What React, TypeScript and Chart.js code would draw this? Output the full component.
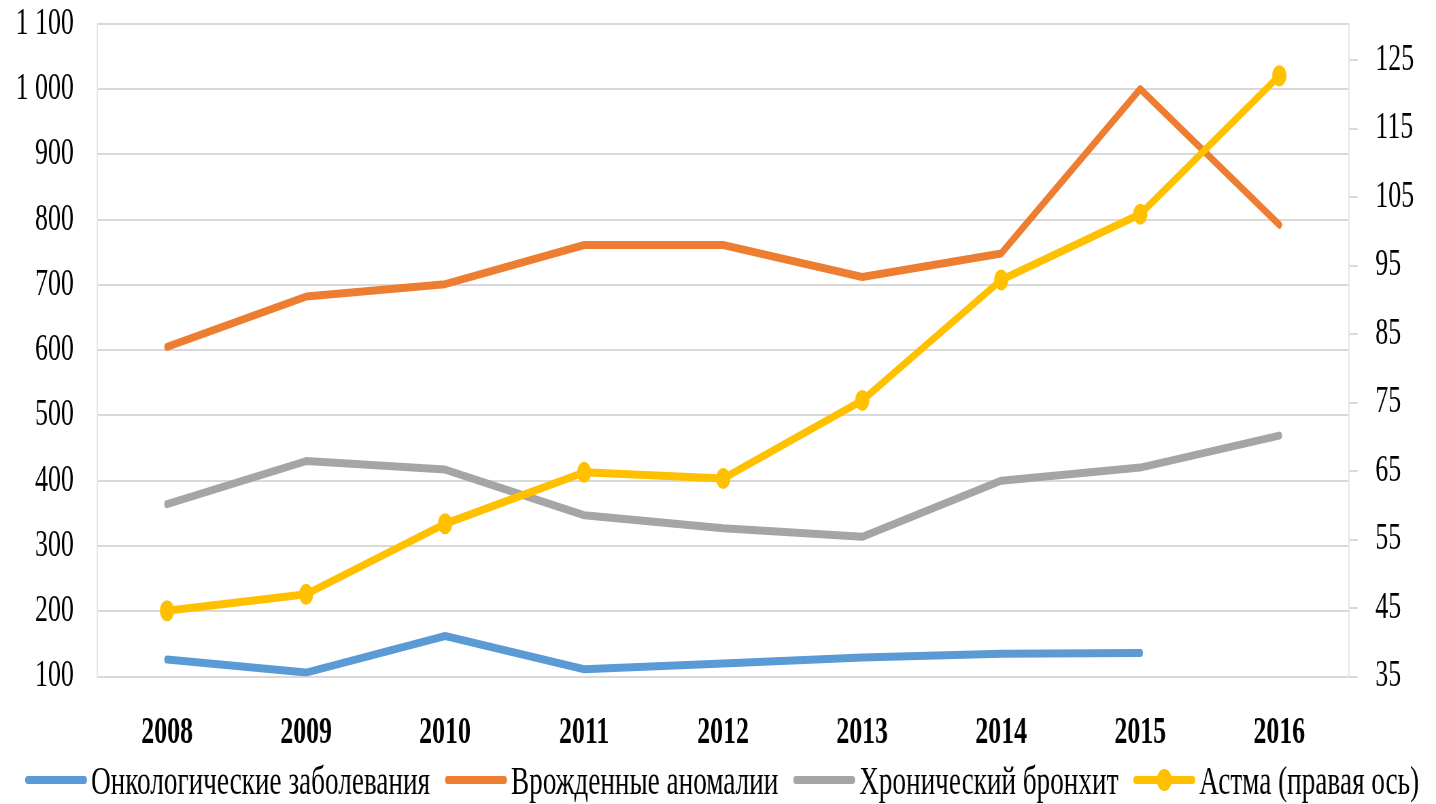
import React, { useEffect, useRef } from 'react';
import { Chart, registerables } from 'chart.js';

Chart.register(...registerables);

// ---- data ----
const years = ['2008', '2009', '2010', '2011', '2012', '2013', '2014', '2015', '2016'];
const oncology = [126, 106, 162, 111, 120, 129, 135, 136, null];
const anomalies = [605, 682, 701, 761, 761, 712, 748, 1000, 792];
const bronchitis = [364, 430, 417, 347, 327, 314, 400, 420, 469];
const asthma = [44.6, 47.0, 57.3, 64.8, 63.9, 75.3, 92.9, 102.5, 122.7];
const leftTicks = [100, 200, 300, 400, 500, 600, 700, 800, 900, 1000, 1100];
const rightTicks = [35, 45, 55, 65, 75, 85, 95, 105, 115, 125];
const seriesNames = [
  'Онкологические заболевания',
  'Врожденные аномалии',
  'Хронический бронхит',
  'Астма (правая ось)',
];
const seriesColors = ['#5B9BD5', '#ED7D31', '#A5A5A5', '#FFC000'];

// ---- layout (internal canvas is wider, displayed squeezed like the reference) ----
const SCREEN_W = 1436;
const SCREEN_H = 804;
const SQUEEZE = 0.68;
const INTERNAL_W = Math.round(SCREEN_W / SQUEEZE);
const FONT = "'Liberation Serif', 'Times New Roman', serif";
const LEGEND_FONT = 40;
const PLOT_TOP = 23.7;
const PLOT_BOTTOM = 676.5;
const LEGEND_SPACE = 60;

const fmt = (v: number) => {
  const s = String(Math.round(v));
  return s.replace(/\B(?=(\d{3})+(?!\d))/g, ' ');
};

const legendPlugin = {
  id: 'excelLegend',
  afterDraw(chart: any) {
    const ctx = chart.ctx as CanvasRenderingContext2D;
    ctx.save();
    ctx.font = `${LEGEND_FONT}px ${FONT}`;
    const items = chart.data.datasets.map((ds: any) => ({
      text: ds.label as string,
      color: ds.borderColor as string,
      marker: (ds.pointRadius || 0) > 0,
      w: ctx.measureText(ds.label).width,
    }));
    const sw = 91;
    const gap1 = 6;
    const gap2 = 22;
    const total =
      items.reduce((a: number, it: any) => a + sw + gap1 + it.w, 0) + gap2 * (items.length - 1);
    let x = (chart.width - total) / 2 + 6;
    const y = 783;
    for (const it of items) {
      ctx.strokeStyle = it.color;
      ctx.lineWidth = 8;
      ctx.lineCap = 'round';
      ctx.beginPath();
      ctx.moveTo(x + 4, y - 3);
      ctx.lineTo(x + sw - 4, y - 3);
      ctx.stroke();
      if (it.marker) {
        ctx.fillStyle = it.color;
        ctx.beginPath();
        ctx.arc(x + sw / 2, y - 3, 11, 0, Math.PI * 2);
        ctx.fill();
      }
      ctx.fillStyle = '#000';
      ctx.textBaseline = 'middle';
      ctx.textAlign = 'left';
      ctx.fillText(it.text, x + sw + gap1, y);
      x += sw + gap1 + it.w + gap2;
    }
    ctx.restore();
  },
};

export default function App() {
  const ref = useRef<HTMLCanvasElement | null>(null);

  useEffect(() => {
    document.body.style.margin = '0';
    const canvas = ref.current;
    if (!canvas) return;
    const lineDs = (i: number, data: (number | null)[], axis: string, order: number, marker: boolean) => ({
      label: seriesNames[i],
      data,
      yAxisID: axis,
      order,
      borderColor: seriesColors[i],
      backgroundColor: seriesColors[i],
      borderWidth: 8,
      borderCapStyle: 'round' as const,
      borderJoinStyle: 'round' as const,
      tension: 0,
      fill: false,
      pointRadius: marker ? 10.5 : 0,
      pointHoverRadius: marker ? 10.5 : 0,
      pointBorderWidth: 0,
      pointBackgroundColor: seriesColors[i],
    });

    const yFit = (width: number) => (s: any) => {
      s.width = width;
      s.paddingTop = 0;
      s.paddingBottom = 0;
    };

    const chart = new Chart(canvas, {
      type: 'line',
      data: {
        labels: years,
        datasets: [
          lineDs(0, oncology, 'y', 4, false),
          lineDs(1, anomalies, 'y', 3, false),
          lineDs(2, bronchitis, 'y', 2, false),
          lineDs(3, asthma, 'y1', 1, true),
        ],
      },
      options: {
        responsive: false,
        maintainAspectRatio: false,
        devicePixelRatio: 1,
        animation: false,
        events: [],
        layout: { padding: { top: PLOT_TOP, bottom: LEGEND_SPACE, left: 0, right: 0 } },
        plugins: {
          legend: { display: false },
          tooltip: { enabled: false },
          title: { display: false },
        },
        scales: {
          x: {
            offset: true,
            grid: { display: false },
            border: { display: false },
            ticks: {
              color: '#000',
              padding: 26,
              font: { family: FONT, size: 38, weight: 'bold' },
              maxRotation: 0,
            },
            afterFit: (s: any) => {
              s.height = SCREEN_H - LEGEND_SPACE - PLOT_BOTTOM;
              s.paddingLeft = 0;
              s.paddingRight = 0;
            },
          },
          y: {
            position: 'left',
            min: 100,
            max: 1100,
            grid: { color: '#d9d9d9', lineWidth: 2, drawTicks: false },
            border: { display: true, color: '#e6e6e6', width: 2 },
            afterBuildTicks: (s: any) => {
              s.ticks = leftTicks.map((v) => ({ value: v }));
            },
            ticks: {
              color: '#000',
              padding: 35,
              font: { family: FONT, size: 38 },
              callback: (v: any) => fmt(Number(v)),
            },
            afterFit: yFit(143.4),
          },
          y1: {
            position: 'right',
            min: 35,
            max: 130.3,
            grid: {
              drawOnChartArea: false,
              drawTicks: true,
              tickLength: 13,
              color: '#d9d9d9',
              lineWidth: 2,
            },
            border: { display: true, color: '#e6e6e6', width: 2 },
            afterBuildTicks: (s: any) => {
              s.ticks = rightTicks.map((v) => ({ value: v }));
            },
            ticks: {
              color: '#000',
              padding: 26,
              font: { family: FONT, size: 38 },
              callback: (v: any) => fmt(Number(v)),
            },
            afterFit: yFit(INTERNAL_W - 1983.8),
          },
        },
      },
      plugins: [legendPlugin],
    });
    return () => chart.destroy();
  }, []);

  return (
    <canvas
      ref={ref}
      width={INTERNAL_W}
      height={SCREEN_H}
      style={{ width: `${SCREEN_W}px`, height: `${SCREEN_H}px`, display: 'block' }}
    />
  );
}
